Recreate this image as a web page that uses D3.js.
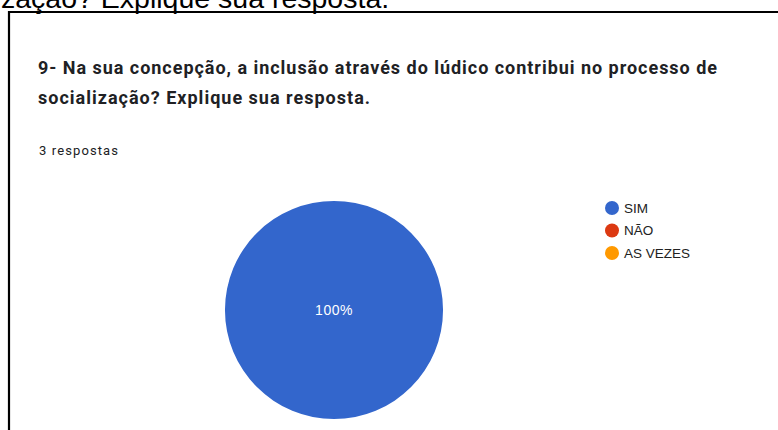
<!DOCTYPE html>
<html>
<head>
<meta charset="utf-8">
<script src="https://cdn.jsdelivr.net/npm/d3@7"></script>
<style>
  body { margin: 0; background: #fff; }
</style>
</head>
<body>
<div id="container"></div>
<script>
// chart data
const categories = ["SIM", "NÃO", "AS VEZES"];
const values = [3, 0, 0];
const colors = ["#3366cc", "#dc3912", "#ff9900"];
const titleLines = [
  "9- Na sua concepção, a inclusão através do lúdico contribui no processo de",
  "socialização? Explique sua resposta."
];
const titleWidths = [679, 332];
const subtitle = "3 respostas";
const topText = "zação? Explique sua resposta.";

const width = 778;
const height = 430;

const svg = d3.create("svg")
    .attr("width", width)
    .attr("height", height)
    .attr("viewBox", [0, 0, width, height]);

// cut-off text from the page above the card
svg.append("text")
    .attr("x", 1)
    .attr("y", 8)
    .attr("font-family", "Arial, 'Liberation Sans', sans-serif")
    .attr("font-size", 28.5)
    .attr("fill", "#000")
    .text(topText);

// card border (top and left visible)
svg.append("path")
    .attr("d", "M9,430 V12 H778")
    .attr("fill", "none")
    .attr("stroke", "#000")
    .attr("stroke-width", 2.2);

// title
svg.append("g")
  .selectAll("text")
  .data(titleLines)
  .join("text")
    .attr("x", 38)
    .attr("y", (d, i) => 74 + i * 30)
    .attr("font-family", "Roboto, sans-serif")
    .attr("font-weight", 700)
    .attr("font-size", 18)
    .attr("fill", "#202124")
    .attr("textLength", (d, i) => titleWidths[i])
    .attr("lengthAdjust", "spacing")
    .text(d => d);

svg.append("text")
    .attr("x", 39)
    .attr("y", 155)
    .attr("font-family", "Roboto, sans-serif")
    .attr("font-size", 13)
    .attr("fill", "#202124")
    .attr("textLength", 79)
    .attr("lengthAdjust", "spacing")
    .text(subtitle);

// pie
const data = categories.map((c, i) => ({name: c, value: values[i], color: colors[i]}));
const cx = 334, cy = 310, r = 109;

const pie = d3.pie().sort(null).value(d => d.value);
const arc = d3.arc().innerRadius(0).outerRadius(r);
const arcs = pie(data).filter(d => d.value > 0);
const total = d3.sum(values);

const g = svg.append("g").attr("transform", `translate(${cx},${cy})`);
g.selectAll("path")
  .data(arcs)
  .join("path")
    .attr("d", arc)
    .attr("fill", d => d.data.color)
    .attr("stroke", "#fff")
    .attr("stroke-width", arcs.length > 1 ? 1 : 0);

g.selectAll("text")
  .data(arcs)
  .join("text")
    .attr("transform", d => d.value === total ? "translate(0,0)" : `translate(${arc.centroid(d)})`)
    .attr("dy", "0.35em")
    .attr("text-anchor", "middle")
    .attr("font-family", "Arial, 'Liberation Sans', sans-serif")
    .attr("font-size", 14)
    .attr("letter-spacing", 0.5)
    .attr("fill", "#fff")
    .text(d => d3.format(".0%")(d.value / total));

// legend
const y = d3.scalePoint().domain(categories).range([208, 253]);
const legend = svg.append("g")
  .selectAll("g")
  .data(data)
  .join("g")
    .attr("transform", d => `translate(612,${y(d.name)})`);

legend.append("circle")
    .attr("r", 7)
    .attr("fill", d => d.color);

legend.append("text")
    .attr("x", 12)
    .attr("dy", "0.36em")
    .attr("font-family", "Arial, 'Liberation Sans', sans-serif")
    .attr("font-size", 13.5)
    .attr("fill", "#222")
    .text(d => d.name);

container.append(svg.node());
</script>
</body>
</html>
